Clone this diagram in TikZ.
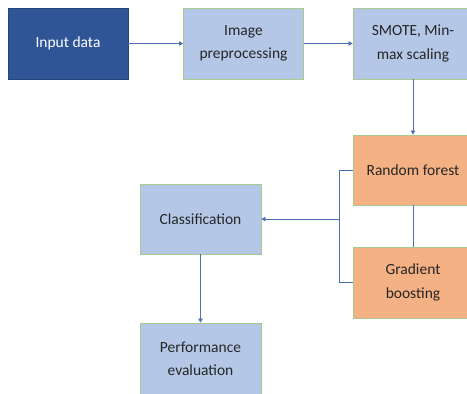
\documentclass[tikz,border=0pt]{standalone}
\usepackage{fontspec}
\setmainfont{Carlito}
\usetikzlibrary{arrows.meta}
\definecolor{darkbox}{HTML}{2F5597}
\definecolor{darkedge}{HTML}{24437A}
\definecolor{lightbox}{HTML}{B4C7E7}
\definecolor{orangebox}{HTML}{F4B183}
\definecolor{greenedge}{HTML}{A9C98E}
\definecolor{linkcol}{HTML}{4A6FB5}
\definecolor{txt}{HTML}{262626}
\begin{document}
\begin{tikzpicture}[x=1pt,y=-1pt,
  box/.style={draw=greenedge, line width=0.9pt, minimum width=120pt, minimum height=71pt,
    inner sep=0pt, align=center, text=txt, font=\fontsize{15.5}{23.5}\selectfont},
  bluebox/.style={box, fill=lightbox},
  orbox/.style={box, fill=orangebox},
  inbox/.style={box, draw=darkedge, fill=darkbox, text=white},
  link/.style={draw=linkcol, line width=0.8pt},
  arr/.style={link, -{Triangle[width=4.5pt,length=4pt]}}]
\useasboundingbox[fill=white] (0,0) rectangle (467,394);
\node[inbox] (in) at (68,43.5) {Input data};
\node[bluebox] (pre) at (243.5,43.5) {Image\\preprocessing};
\node[bluebox] (smote) at (413,43.5) {SMOTE, Min-\\max scaling};
\node[orbox, minimum height=70pt] (rf) at (413,170) {Random forest};
\node[orbox] (gb) at (413,282.5) {Gradient\\boosting};
\node[bluebox, minimum width=121pt, minimum height=70pt] (cls) at (200.5,219) {Classification};
\node[bluebox, minimum width=121pt] (perf) at (200.5,358.5) {Performance\\evaluation};
\coordinate (bt) at (339,170);
\coordinate (bb) at (339,282.5);
\coordinate (bm) at (339,219);
\draw[arr] (in) -- (pre);
\draw[arr] (pre) -- (smote);
\draw[arr] (smote) -- (rf);
\draw[link] (rf) -- (gb);
\draw[link] (rf.west) -- (bt) -- (bb) -- (gb.west);
\draw[arr] (bm) -- (cls.east);
\draw[arr] (cls) -- (perf);
\end{tikzpicture}
\end{document}
